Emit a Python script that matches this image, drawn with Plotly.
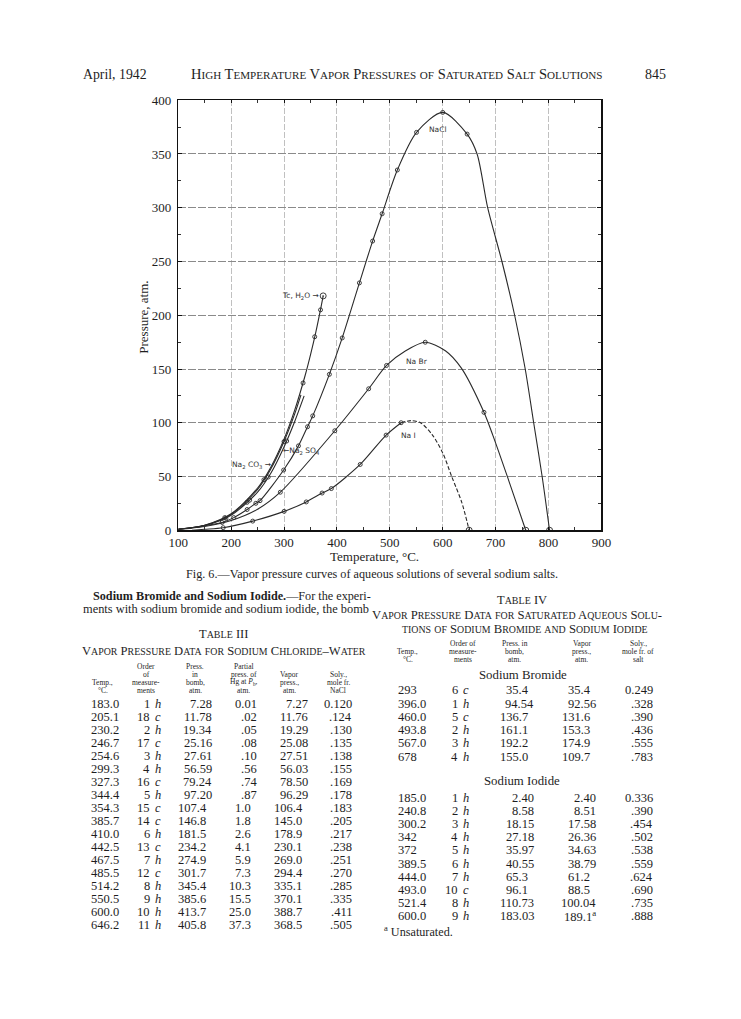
import plotly.graph_objects as go

# page is 741x1019; the html body keeps its 8px margin, so the figure is 725x1003
PAGE_W, PAGE_H = 741, 1019
OFF = 8
W, H = PAGE_W - 2 * OFF, PAGE_H - 2 * OFF
SX, SY = 0.979, 0.985          # measured screenshot scale of the page
SERIF = "Liberation Serif"
SANS = "DejaVu Sans"
INK = "#1e1e1e"

# ---------------- Fig. 6 curves ----------------
h2o_t = [100, 150, 200, 250, 275, 300, 320, 340, 350, 360, 370, 374]
h2o_p = [1.0, 4.7, 15.3, 39.3, 58.7, 84.8, 111.5, 144.2, 163.2, 184.1, 207.8, 218.0]
h2o_pts_t = [336, 358, 369]
h2o_pts_p = [137, 180, 205]
tc_t = [374]
tc_p = [218]

na2co3_t = [100, 150, 200, 250, 275, 300, 320, 332]
na2co3_p = [1.0, 4.6, 14.8, 38.0, 57.0, 82.5, 108.0, 126.0]
na2co3_pts_t = [188, 230, 262, 300]
na2co3_pts_p = [11.8, 26.0, 47.0, 82.5]

na2so4_t = [100, 150, 200, 250, 275, 300, 320, 338]
na2so4_p = [1.0, 4.4, 14.0, 35.5, 53.0, 77.5, 101.0, 125.0]
na2so4_pts_t = [190, 235, 270, 305]
na2so4_pts_p = [11.2, 28.0, 49.5, 83.0]

nacl_t = [100, 130, 150, 183.0, 205.1, 230.2, 246.7, 254.6, 299.3, 327.3, 344.4, 354.3,
          385.7, 410.0, 442.5, 467.5, 485.5, 514.2, 550.5, 600.0, 646.2, 665, 685, 712,
          736, 756, 772, 788, 802]
nacl_p = [1.0, 2.5, 4.2, 7.27, 11.76, 19.29, 25.08, 27.51, 56.03, 78.50, 96.29, 106.4,
          145.0, 178.9, 230.1, 269.0, 294.4, 335.1, 370.1, 388.7, 368.5, 350, 300, 250,
          200, 150, 100, 50, 0]

nabr_t = [100, 125, 150, 200, 250, 293, 396.0, 460.0, 493.8, 530, 567.0, 605, 635, 678,
          695, 725, 757]
nabr_p = [1.0, 2.0, 3.5, 9.0, 19.5, 35.4, 92.56, 131.6, 153.3, 167, 174.9, 167, 151,
          109.7, 88, 46, 0]

nai_t = [126, 150, 185.0, 240.8, 300.2, 342, 372, 389.5, 444.0, 493.0, 521.4]
nai_p = [0.0, 0.9, 2.40, 8.51, 17.58, 26.36, 34.63, 38.79, 61.2, 88.5, 100.04]
nai_dash_t = [521.4, 540, 558, 580, 600, 617, 636, 650]
nai_dash_p = [100.04, 102, 100, 89, 72, 50, 26, 0]

end_t = [650, 757, 802]
end_p = [0, 0, 0]

x_ticks = [100, 200, 300, 400, 500, 600, 700, 800, 900]
y_ticks = [0, 50, 100, 150, 200, 250, 300, 350, 400]

# ---------------- Table III ----------------
t3_temp = ["183.0", "205.1", "230.2", "246.7", "254.6", "299.3", "327.3", "344.4", "354.3",
           "385.7", "410.0", "442.5", "467.5", "485.5", "514.2", "550.5", "600.0", "646.2"]
t3_ord_n = ["1", "18", "2", "17", "3", "4", "16", "5", "15", "14", "6", "13", "7", "12", "8",
            "9", "10", "11"]
t3_ord_l = ["h", "c", "h", "c", "h", "h", "c", "h", "c", "c", "h", "c", "h", "c", "h", "h",
            "h", "h"]
t3_bomb = ["7.28", "11.78", "19.34", "25.16", "27.61", "56.59", "79.24", "97.20", "107.4",
           "146.8", "181.5", "234.2", "274.9", "301.7", "345.4", "385.6", "413.7", "405.8"]
t3_hg = ["0.01", ".02", ".05", ".08", ".10", ".56", ".74", ".87", "1.0", "1.8", "2.6", "4.1",
         "5.9", "7.3", "10.3", "15.5", "25.0", "37.3"]
t3_vap = ["7.27", "11.76", "19.29", "25.08", "27.51", "56.03", "78.50", "96.29", "106.4",
          "145.0", "178.9", "230.1", "269.0", "294.4", "335.1", "370.1", "388.7", "368.5"]
t3_soly = ["0.120", ".124", ".130", ".135", ".138", ".155", ".169", ".178", ".183", ".205",
           ".217", ".238", ".251", ".270", ".285", ".335", ".411", ".505"]

# ---------------- Table IV ----------------
br_temp = ["293", "396.0", "460.0", "493.8", "567.0", "678"]
br_ord_n = ["6", "1", "5", "2", "3", "4"]
br_ord_l = ["c", "h", "c", "h", "h", "h"]
br_bomb = ["35.4", "94.54", "136.7", "161.1", "192.2", "155.0"]
br_vap = ["35.4", "92.56", "131.6", "153.3", "174.9", "109.7"]
br_soly = ["0.249", ".328", ".390", ".436", ".555", ".783"]

i_temp = ["185.0", "240.8", "300.2", "342", "372", "389.5", "444.0", "493.0", "521.4", "600.0"]
i_ord_n = ["1", "2", "3", "4", "5", "6", "7", "10", "8", "9"]
i_ord_l = ["h", "h", "h", "h", "h", "h", "h", "c", "h", "h"]
i_bomb = ["2.40", "8.58", "18.15", "27.18", "35.97", "40.55", "65.3", "96.1", "110.73", "183.03"]
i_vap = ["2.40", "8.51", "17.58", "26.36", "34.63", "38.79", "61.2", "88.5", "100.04", "189.1<sup>a</sup>"]
i_soly = ["0.336", ".390", ".454", ".502", ".538", ".559", ".624", ".690", ".735", ".888"]

# plot area, in page pixels (as seen)
PX0, PX1 = 177, 603
PY0, PY1 = 101, 531


def fx(px):
    return ((px / SX - OFF) - OFF) / W


def fy(py):
    return 1 - ((py / SY - OFF) - OFF) / H


fig = go.Figure()
LC = "#2a2a2a"


def curve(t, p, dash="solid", width=1.1):
    fig.add_trace(go.Scatter(x=t, y=p, mode="lines",
                             line=dict(color=LC, width=width, dash=dash, shape="spline", smoothing=0.8),
                             hoverinfo="skip", showlegend=False))


def pts(t, p, size=4, symbol="circle-open"):
    fig.add_trace(go.Scatter(x=t, y=p, mode="markers",
                             marker=dict(symbol=symbol, size=size, color=LC, line=dict(width=0.9, color=LC)),
                             hoverinfo="skip", showlegend=False))


curve(h2o_t, h2o_p)
curve(na2co3_t, na2co3_p)
curve(na2so4_t, na2so4_p)
curve(nacl_t, nacl_p)
curve(nabr_t, nabr_p)
curve(nai_t, nai_p)
curve(nai_dash_t, nai_dash_p, dash="4px,2px")

pts(h2o_pts_t, h2o_pts_p)
pts(na2co3_pts_t, na2co3_pts_p)
pts(na2so4_pts_t, na2so4_pts_p)
pts([float(v) for v in t3_temp], [float(v) for v in t3_vap])
pts([float(v) for v in br_temp], [float(v) for v in br_vap])
pts([float(v) for v in i_temp[:-1]], [float(v) for v in i_vap[:-1]])
pts(tc_t, tc_p, size=6, symbol="circle-open-dot")
pts(end_t, end_p, size=6, symbol="circle-open-dot")

anns = []


def add(x, y, text, size=12.5, xa="left", ya="middle", family=SERIF, color=INK, **kw):
    anns.append(dict(x=fx(x), y=fy(y), xref="paper", yref="paper", text=text, showarrow=False,
                     xanchor=xa, yanchor=ya, borderpad=0,
                     font=dict(family=family, size=size, color=color), **kw))


def data_lbl(x, y, text, xa="left"):
    anns.append(dict(x=x, y=y, xref="x", yref="y", text=text, showarrow=False, xanchor=xa,
                     yanchor="middle", borderpad=0, font=dict(family=SANS, size=7.5, color="#333")))


def sc(s, small):
    out, buf, mode = [], "", None
    for ch in s:
        m = ch.islower()
        if buf and m != mode:
            out.append(f"<span style='font-size:{small}px'>{buf.upper()}</span>" if mode else buf)
            buf = ""
        mode = m
        buf += ch
    if buf:
        out.append(f"<span style='font-size:{small}px'>{buf.upper()}</span>" if mode else buf)
    return "".join(out)


HIDE = "<span style='color:rgba(255,255,255,0)'>{}</span>"


def dec(x_right, y, s, nfrac=2, size=12.5):
    plain = s.split("<")[0]
    frac = len(plain.split(".", 1)[1]) if "." in plain else -1
    pad = nfrac - frac
    if "<sup>" in s:
        pad -= 1
    txt = s + (HIDE.format("0" * pad) if pad > 0 else "")
    add(x_right, y, txt, size, xa="right")


# labels inside the plot
data_lbl(592, 373, "NaCl", "center")
data_lbl(552, 157, "Na Br", "center")
data_lbl(535, 88, "Na I", "center")
data_lbl(368, 218, "Tc, H<sub>2</sub>O \u2192", "right")
data_lbl(277, 61, "Na<sub>2</sub> CO<sub>3</sub> \u2192", "right")
data_lbl(297, 74, "\u2190Na<sub>2</sub> SO<sub>4</sub>", "left")

# page header
add(80, 75, "April, 1942", 13.8)
add(396.5, 75, sc("High Temperature Vapor Pressures of Saturated Salt Solutions", 11.1), 14.5, xa="center")
add(669, 75, "845", 14.0, xa="right")

# axis titles & caption
add(142, 318, "Pressure, atm.", 13, xa="center", textangle=-90)
add(375, 557, "Temperature, \u00b0C.", 13, xa="center")
add(372, 575, "Fig. 6.\u2014Vapor pressure curves of aqueous solutions of several sodium salts.", 12.2, xa="center")

# paragraph
add(90, 597, "<b>Sodium Bromide and Sodium Iodide.</b>\u2014For the experi-", 12.2)
add(80, 610, "ments with sodium bromide and sodium iodide, the bomb", 12.4)

# ---------- Table III ----------
add(223, 635, sc("Table III", 10), 12.5, xa="center")
add(223, 652, sc("Vapor Pressure Data for Sodium Chloride\u2013Water", 9.9), 12.6, xa="center")
HS = 7.5
hdr3 = [(101, ["Temp.,", "\u00b0C."]), (145, ["Order", "of", "measure-", "ments"]),
        (194, ["Press.", "in", "bomb,", "atm."]), (243, ["Partial", "press. of", "Hg at <i>P</i><sub>b</sub>,", "atm."]),
        (289, ["Vapor", "press.,", "atm."]), (338, ["Soly.,", "mole fr.", "NaCl"])]
for cx, lines in hdr3:
    n = len(lines)
    for k, ln in enumerate(lines):
        add(cx, 691 - (n - 1 - k) * 7.8, ln, HS, xa="center")

Y3, DY3 = 705, 13.0
for r in range(len(t3_temp)):
    y = Y3 + r * DY3
    add(88, y, t3_temp[r])
    add(150, y, t3_ord_n[r], xa="right")
    add(152.5, y, f"<i>{t3_ord_l[r]}</i>")
    dec(212, y, t3_bomb[r])
    dec(257, y, t3_hg[r])
    dec(309, y, t3_vap[r])
    add(353, y, t3_soly[r], xa="right")

# ---------- Table IV ----------
add(523, 601, sc("Table IV", 10), 12.5, xa="center")
add(518, 616, sc("Vapor Pressure Data for Saturated Aqueous Solu-", 9.9), 12.7, xa="center")
add(526, 629.5, sc("tions of Sodium Bromide and Sodium Iodide", 9.9), 12.7, xa="center")
hdr4 = [(408, ["Temp.,", "\u00b0C."]), (464, ["Order of", "measure-", "ments"]),
        (516, ["Press. in", "bomb,", "atm."]), (583, ["Vapor", "press.,", "atm."]),
        (640, ["Soly.,", "mole fr. of", "salt"])]
for cx, lines in hdr4:
    n = len(lines)
    for k, ln in enumerate(lines):
        add(cx, 660 - (n - 1 - k) * 7.8, ln, HS, xa="center")

add(524, 676, "Sodium Bromide", 12.8, xa="center")
Y4, DY4 = 691, 13.3
for r in range(len(br_temp)):
    y = Y4 + r * DY4
    add(397, y, br_temp[r])
    add(460, y, br_ord_n[r], xa="right")
    add(462.5, y, f"<i>{br_ord_l[r]}</i>")
    dec(536, y, br_bomb[r])
    dec(599, y, br_vap[r])
    add(656, y, br_soly[r], xa="right")

add(523, 782, "Sodium Iodide", 12.8, xa="center")
Y5, DY5 = 798.5, 13.15
for r in range(len(i_temp)):
    y = Y5 + r * DY5
    add(397, y, i_temp[r])
    add(460, y, i_ord_n[r], xa="right")
    add(462.5, y, f"<i>{i_ord_l[r]}</i>")
    dec(536, y, i_bomb[r])
    dec(599, y, i_vap[r])
    add(656, y, i_soly[r], xa="right")
add(383, 932, "<sup>a</sup> Unsaturated.", 12.2)

fig.update_layout(
    width=W, height=H, autosize=False,
    margin=dict(l=0, r=0, t=0, b=0),
    paper_bgcolor="white", plot_bgcolor="white",
    showlegend=False,
    annotations=anns,
    xaxis=dict(domain=[fx(PX0), fx(PX1)], range=[100, 900], tickvals=x_ticks,
               ticktext=[str(v) for v in x_ticks], showgrid=True, gridcolor="#b0b0b0",
               griddash="6px,2px", gridwidth=0.8, showline=True, linecolor="#111", linewidth=1.3,
               mirror="allticks", ticks="inside", ticklen=3, tickcolor="#111", zeroline=False,
               minor=dict(dtick=50, ticks="inside", ticklen=3, tickcolor="#333", showgrid=False),
               tickfont=dict(family=SERIF, size=13, color=INK), fixedrange=True),
    yaxis=dict(domain=[fy(PY1), fy(PY0)], range=[0, 400], tickvals=y_ticks,
               ticktext=[str(v) for v in y_ticks], showgrid=True, gridcolor="#8a8a8a",
               griddash="8px,2px", gridwidth=1.0, showline=True, linecolor="#111", linewidth=1.3,
               mirror="allticks", ticks="inside", ticklen=4, tickcolor="#111",
               minor=dict(dtick=25, ticks="inside", ticklen=3, tickcolor="#333", showgrid=False),
               zeroline=True, zerolinecolor="#111", zerolinewidth=2.4, ticklabelstandoff=3,
               tickfont=dict(family=SERIF, size=13, color=INK), fixedrange=True),
)

fig.write_html("out.html", include_plotlyjs=True, config={"displayModeBar": False, "staticPlot": True})
